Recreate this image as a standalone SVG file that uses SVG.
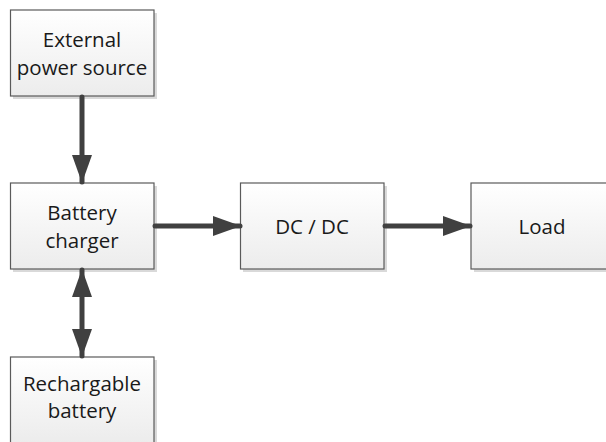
<svg xmlns="http://www.w3.org/2000/svg" width="606" height="442" viewBox="0 0 606 442">
<defs>
<linearGradient id="g" x1="0" y1="0" x2="0" y2="1">
<stop offset="0" stop-color="#ffffff"/>
<stop offset="1" stop-color="#ececec"/>
</linearGradient>
<marker id="ah" viewBox="0 0 28 20" refX="27" refY="10" markerWidth="28" markerHeight="20" markerUnits="userSpaceOnUse" orient="auto-start-reverse">
<path d="M0,0 L28,10 L0,20 Z" fill="#404040"/>
</marker>
<style>
.box{fill:url(#g);stroke:#5a5a5a;stroke-width:1.2}
.sh{fill:#d9d9d9}
.t{font-family:"Open Sans","Liberation Sans",sans-serif;font-size:20.5px;fill:#1a1a1a;text-anchor:middle}
.c{stroke:#404040;stroke-width:5;fill:none;stroke-linecap:round}
</style>
</defs>
<g id="external">
<rect class="sh" x="13" y="13" width="144" height="86"/>
<rect class="box" x="10.5" y="10" width="143.5" height="86"/>
<text class="t" x="82" y="47">External</text>
<text class="t" x="82" y="75">power source</text>
</g>
<g id="charger">
<rect class="sh" x="13" y="186" width="144" height="86"/>
<rect class="box" x="10.5" y="183" width="143.5" height="86"/>
<text class="t" x="82" y="220">Battery</text>
<text class="t" x="82" y="248">charger</text>
</g>
<g id="dcdc">
<rect class="sh" x="243" y="186" width="144" height="86"/>
<rect class="box" x="240.5" y="183" width="143.5" height="86"/>
<text class="t" x="312" y="234">DC / DC</text>
</g>
<g id="load">
<rect class="sh" x="474" y="186" width="144" height="86"/>
<rect class="box" x="471" y="183" width="143.5" height="86"/>
<text class="t" x="542" y="234">Load</text>
</g>
<g id="battery">
<rect class="sh" x="13" y="360" width="144" height="86"/>
<rect class="box" x="10.5" y="357" width="143.5" height="86"/>
<text class="t" x="82" y="391">Rechargable</text>
<text class="t" x="82" y="418">battery</text>
</g>
<g id="connectors">
<line class="c" x1="82" y1="97" x2="82" y2="182" marker-end="url(#ah)"/>
<line class="c" x1="155" y1="226" x2="240" y2="226" marker-end="url(#ah)"/>
<line class="c" x1="385" y1="226" x2="470" y2="226" marker-end="url(#ah)"/>
<line class="c" x1="82" y1="270" x2="82" y2="356" marker-start="url(#ah)" marker-end="url(#ah)"/>
</g>
</svg>
